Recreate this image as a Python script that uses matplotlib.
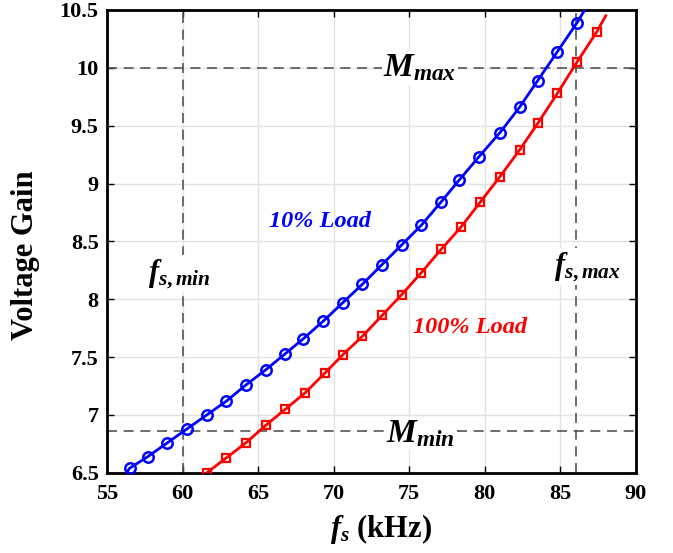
import matplotlib
matplotlib.use("Agg")
import matplotlib.pyplot as plt

plt.rcParams['font.family'] = ['Liberation Serif', 'DejaVu Serif']
plt.rcParams['font.weight'] = 'bold'
plt.rcParams['mathtext.fontset'] = 'custom'
plt.rcParams['mathtext.rm'] = 'Liberation Serif:bold'
plt.rcParams['mathtext.it'] = 'Liberation Serif:italic:bold'
plt.rcParams['mathtext.bf'] = 'Liberation Serif:bold'

# gain vs switching frequency, 10% load
fs_light = [56.2, 56.5, 57.7, 59.0, 60.3, 61.6, 62.9, 64.2, 65.5, 66.8, 68.0, 69.3, 70.6,
            71.9, 73.2, 74.5, 75.8, 77.1, 78.3, 79.6, 81.0, 82.3, 83.5, 84.8, 86.1, 86.7]
gain_light = [6.48, 6.54, 6.64, 6.76, 6.88, 7.00, 7.12, 7.26, 7.39, 7.53, 7.66, 7.81, 7.97,
              8.13, 8.30, 8.47, 8.64, 8.84, 9.03, 9.23, 9.44, 9.66, 9.89, 10.14, 10.39, 10.52]

# gain vs switching frequency, 100% load
fs_full = [61.3, 61.6, 62.9, 64.2, 65.5, 66.8, 68.1, 69.4, 70.6, 71.9, 73.2, 74.5, 75.8,
           77.1, 78.4, 79.7, 81.0, 82.3, 83.5, 84.8, 86.1, 87.4, 88.0]
gain_full = [6.47, 6.50, 6.63, 6.76, 6.91, 7.05, 7.19, 7.36, 7.52, 7.68, 7.86, 8.04, 8.23,
             8.43, 8.62, 8.84, 9.06, 9.29, 9.52, 9.78, 10.05, 10.31, 10.45]

fs_min, fs_max = 60.0, 86.0
m_min, m_max = 6.86, 10.0

fig = plt.figure(figsize=(6.73, 5.53), dpi=100)
ax = fig.add_axes([0.159, 0.145, 0.786, 0.837])

ax.plot(fs_light, gain_light, color='blue', lw=2.0, marker='o', ms=7.5, mfc='none',
        mew=1.8, markevery=range(1, len(fs_light) - 1), zorder=4)
ax.plot(fs_full, gain_full, color='red', lw=2.0, marker='s', ms=5.5, mfc='none',
        mew=1.6, markevery=range(1, len(fs_full) - 1), zorder=4)

dash = dict(color='#555555', lw=1.2, ls=(0, (6, 4)), zorder=2)
ax.axvline(fs_min, **dash)
ax.axvline(fs_max, **dash)
ax.axhline(m_min, **dash)
ax.axhline(m_max, **dash)

ax.set_xlim(55, 90)
ax.set_ylim(6.5, 10.5)
ax.set_xticks(range(55, 91, 5))
ax.set_yticks([6.5, 7, 7.5, 8, 8.5, 9, 9.5, 10, 10.5])
ax.set_yticklabels(['6.5', '7', '7.5', '8', '8.5', '9', '9.5', '10', '10.5'])
ax.grid(True, color='#e3e3e3', lw=1.0, zorder=0)
ax.tick_params(direction='in', top=True, right=True, labelsize=16, length=5,
               width=1)
ax.tick_params(axis='y', pad=6)
ax.tick_params(axis='x', pad=8)
for s in ax.spines.values():
    s.set_linewidth(2.0)

ax.set_xlabel(r'$f_s$ (kHz)', fontsize=22, fontweight='bold')
ax.set_ylabel('Voltage Gain', fontsize=22, fontweight='bold')
ax.xaxis.set_label_coords(0.518, -0.085)
ax.yaxis.set_label_coords(-0.127, 0.47)

wbox = dict(facecolor='white', edgecolor='none', pad=1)
ax.text(75.7, m_max, r'$M_{max}$', fontsize=24, ha='center', va='center', bbox=wbox, zorder=3)
ax.text(75.7, m_min - 0.02, r'$M_{min}$', fontsize=24, ha='center', va='center', bbox=wbox, zorder=3)
ax.text(59.8, 8.22, r'$f_{s,min}$', fontsize=22, ha='center', va='center', bbox=wbox, zorder=3)
ax.text(86.8, 8.28, r'$f_{s,max}$', fontsize=22, ha='center', va='center', bbox=wbox, zorder=3)

ax.text(69.1, 8.67, '10% Load', color='blue', fontsize=17.5, fontstyle='italic',
        fontweight='bold', ha='center', va='center', zorder=5)
ax.text(79.0, 7.76, '100% Load', color='red', fontsize=17.5, fontstyle='italic',
        fontweight='bold', ha='center', va='center', zorder=5)

fig.savefig('out.png', dpi=100)
